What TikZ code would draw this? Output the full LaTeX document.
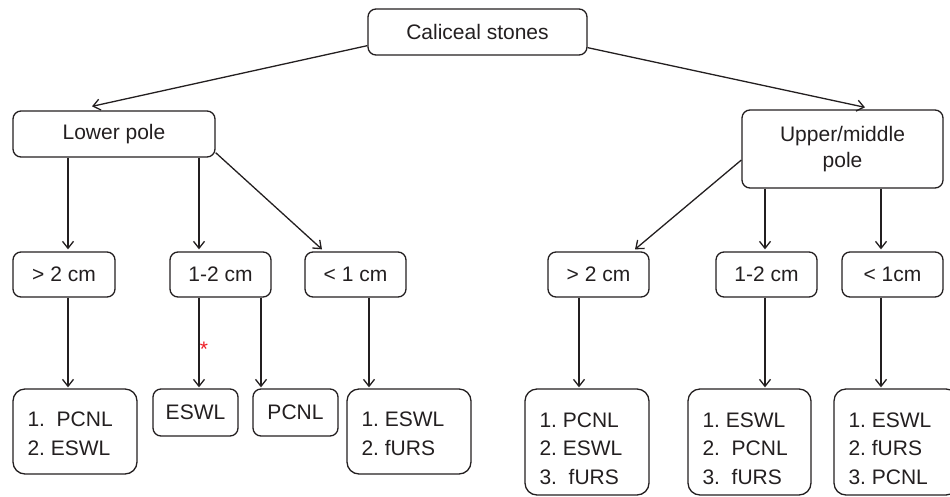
\documentclass[tikz,border=0pt]{standalone}
\usepackage{fontspec}
\setmainfont{Liberation Sans}
\usetikzlibrary{arrows.meta,calc}
\definecolor{linecol}{RGB}{35,31,32}
\definecolor{starred}{RGB}{237,28,36}
\frenchspacing
\begin{document}
\begin{tikzpicture}[x=1pt,y=-1pt,
  box/.style={draw=linecol, line width=1.3pt, rounded corners=8pt, inner sep=0pt,
    font=\fontsize{21}{26}\selectfont, align=center, text=linecol},
  listbox/.style={box, rounded corners=12pt},
  listtext/.style={inner sep=0pt, anchor=west, align=left, text=linecol,
    font=\fontsize{21}{28.5}\selectfont},
  arr/.style={draw=linecol, line width=1.3pt, -{Straight Barb[length=7pt,width=11pt]}},
]
\useasboundingbox (0,0) rectangle (950,496);

% top levels
\node[box, minimum width=219pt, minimum height=46pt] (cal) at (477.5,32) {Caliceal stones};
\node[box, minimum width=202pt, minimum height=46pt] (low) at (114,134) {Lower pole};
\node[box, minimum width=201pt, minimum height=78pt] (up) at (842.5,149) {Upper/middle\\pole};

% size row
\node[box, minimum width=102pt, minimum height=45pt] (a1) at (64,274.5) {> 2 cm};
\node[box, minimum width=101pt, minimum height=45pt] (a2) at (220.5,274.5) {1-2 cm};
\node[box, minimum width=101pt, minimum height=45pt] (a3) at (355.5,274.5) {< 1 cm};
\node[box, minimum width=101pt, minimum height=45pt] (b1) at (598.5,274.5) {> 2 cm};
\node[box, minimum width=101pt, minimum height=45pt] (b2) at (766.5,274.5) {1-2 cm};
\node[box, minimum width=101pt, minimum height=45pt] (b3) at (892.5,274.5) {< 1cm};

% treatment row
\node[listbox, minimum width=124pt, minimum height=85pt] (c1) at (75,431.5) {};
\node[listtext] (c1t) at ($(c1.west)+(15,2.5)$) {1.\ \ PCNL\\2. ESWL};
\node[box, minimum width=85pt, minimum height=47pt] (c2) at (195.5,412.5) {ESWL};
\node[box, minimum width=85pt, minimum height=47pt] (c3) at (295.5,412.5) {PCNL};
\node[listbox, minimum width=124pt, minimum height=85pt] (c4) at (409,431.5) {};
\node[listtext] (c4t) at ($(c4.west)+(15,2.5)$) {1. ESWL\\2. fURS};

\node[listbox, minimum width=124pt, minimum height=106pt] (d1) at (587,442) {};
\node[listtext] (d1t) at ($(d1.west)+(15,6.5)$) {1. PCNL\\2. ESWL\\3.\ \ fURS};
\node[listbox, minimum width=123pt, minimum height=106pt] (d2) at (749.5,442) {};
\node[listtext] (d2t) at ($(d2.west)+(15,6.5)$) {1. ESWL\\2.\ \ PCNL\\3.\ \ fURS};
\node[listbox, minimum width=124pt, minimum height=106pt] (d3) at (896,442) {};
\node[listtext] (d3t) at ($(d3.west)+(15,6.5)$) {1. ESWL\\2. fURS\\3. PCNL};

% asterisk
\node[inner sep=0pt, text=starred, font=\fontsize{21}{21}\selectfont] (star) at (204,349) {*};

% connectors
\draw[arr] ($(cal.south west)+(0,-10)$) -- ($(low.north)+(-22,-4)$);
\draw[arr] ($(cal.south east)+(0,-8)$) -- ($(up.north)+(22.5,-2)$);

\draw[arr] ($(low.south)+(-46,0)$) -- ($(a1.north)+(4,-2)$);
\draw[arr] ($(low.south)+(85,0)$) -- ($(a2.north)+(-21.5,-2)$);
\draw[arr] ($(low.south east)+(0,-5)$) -- ($(a3.north)+(-33.5,-2)$);

\draw[arr] ($(up.west)+(0,11)$) -- ($(b1.north)+(36.5,-2)$);
\draw[arr] ($(up.south)+(-77.5,0)$) -- ($(b2.north)+(-1.5,-2)$);
\draw[arr] ($(up.south)+(38.5,0)$) -- ($(b3.north)+(-11.5,-2)$);

\draw[arr] ($(a1.south)+(4,0)$) -- ($(c1.north)+(-7,-1)$);
\draw[arr] ($(a2.south)+(-21.5,0)$) -- ($(c2.north)+(3.5,-1)$);
\draw[arr] ($(a2.south)+(40.5,0)$) -- ($(c3.north)+(-34.5,-1)$);
\draw[arr] ($(a3.south)+(13.5,0)$) -- ($(c4.north)+(-40,-1)$);
\draw[arr] ($(b1.south)+(-19.5,0)$) -- ($(d1.north)+(-8,-1)$);
\draw[arr] ($(b2.south)+(-1.5,0)$) -- ($(d2.north)+(15.5,-1)$);
\draw[arr] ($(b3.south)+(-11.5,0)$) -- ($(d3.north)+(-15,-1)$);
\end{tikzpicture}
\end{document}
